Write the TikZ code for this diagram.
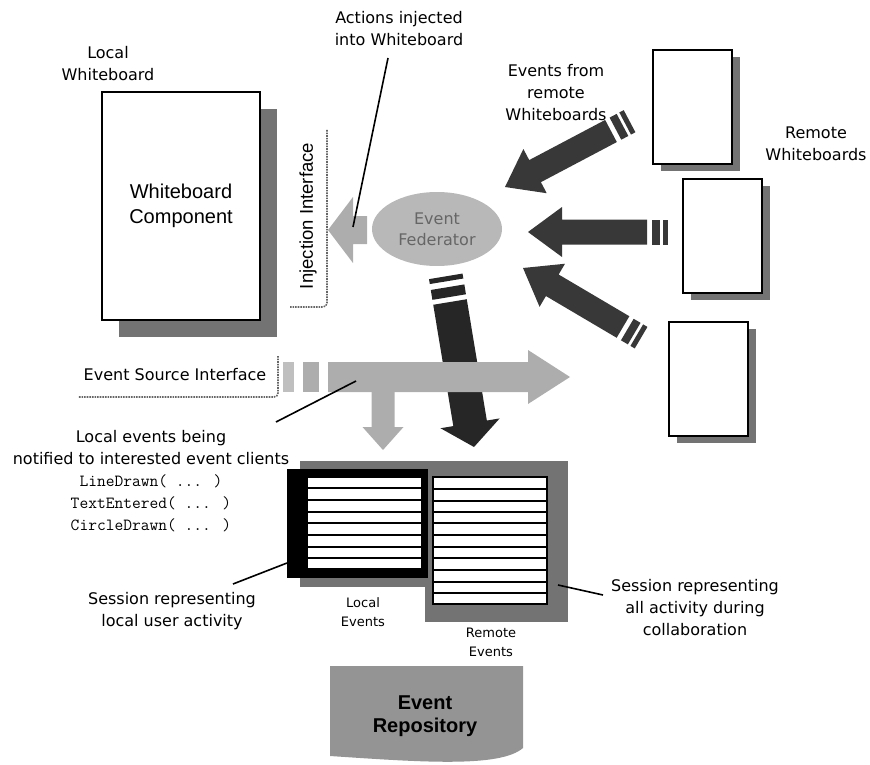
\documentclass[tikz,border=0pt]{standalone}
\usepackage{fontspec}
\setmainfont{DejaVu Sans}
\newfontfamily\arialf{Liberation Sans}
\usetikzlibrary{calc,shadows,shapes.geometric}

% fat block arrow: style, tail, tip, shaft half width, head half width, head length
\newcommand{\fatarrow}[6]{%
  \coordinate (fab) at ($(#3)!#6!(#2)$);
  \fill[#1] ($(#2)!#4!90:(#3)$) -- ($(fab)!#4!90:(#3)$) -- ($(fab)!#5!90:(#3)$) -- (#3)
    -- ($(fab)!#5!-90:(#3)$) -- ($(fab)!#4!-90:(#3)$) -- ($(#2)!#4!-90:(#3)$) -- cycle;}
% bar behind the tail: style, tail, tip, from, to, half width
\newcommand{\tailbar}[6]{%
  \coordinate (tba) at ($(#2)!#4!180:(#3)$);
  \coordinate (tbb) at ($(#2)!#5!180:(#3)$);
  \fill[#1] ($(tba)!#6!90:(#3)$) -- ($(tbb)!#6!90:(#3)$) -- ($(tbb)!#6!-90:(#3)$)
    -- ($(tba)!#6!-90:(#3)$) -- cycle;}
\newcommand{\callf}{\ttfamily\fontsize{17}{22}\selectfont}

\begin{document}
\begin{tikzpicture}[x=1pt,y=-1pt,
  lbl/.style={align=center,font=\fontsize{16}{22}\selectfont,inner sep=0pt},
  smalllbl/.style={align=center,font=\fontsize{13}{19}\selectfont,inner sep=0pt},
  board/.style={draw,line width=2pt,fill=white,minimum width=79pt,minimum height=114pt,inner sep=0pt,
    drop shadow={shadow xshift=8pt,shadow yshift=-7pt,fill=black!55,opacity=1}},
  iface/.style={black!60,line width=1.6pt,densely dotted,rounded corners=4pt},
  pointer/.style={line width=1.6pt},
  darkarr/.style={fill=black!78},
  lightarr/.style={fill=black!32}]
\useasboundingbox (0,0) rectangle (870,765);

% local whiteboard
\node[lbl] (localwb) at (108,64) {Local\\Whiteboard};
\node[draw,line width=2pt,fill=white,minimum width=158pt,minimum height=228pt,inner sep=0pt,
  align=center,font=\arialf\fontsize{20}{25}\selectfont,
  drop shadow={shadow xshift=17pt,shadow yshift=-17pt,fill=black!55,opacity=1}]
  (comp) at (181,206) {Whiteboard\\Component};

% interfaces
\draw[iface] (327,130) -- (327,307) -- (290,307);
\node[rotate=90,inner sep=0pt,font=\arialf\fontsize{18.5}{22}\selectfont] (injlbl) at (308,216) {Injection Interface};
\draw[iface] (278,356) -- (278,397) -- (78,397);
\node[lbl] (srclbl) at (175,375) {Event Source Interface};

% injection arrow and federator
\coordinate (inj-t) at (367,230);
\coordinate (inj-h) at (328,230);
\fatarrow{lightarr}{inj-t}{inj-h}{14pt}{33pt}{25pt}
\node[ellipse,fill=black!28,minimum width=130pt,minimum height=74pt,inner sep=0pt,align=center,
  text=black!60,font=\fontsize{16}{21}\selectfont] (fed) at (437,229) {Event\\Federator};

\node[lbl] (actlbl) at (399,29) {Actions injected\\into Whiteboard};
\coordinate (p-act1) at (388,58);
\coordinate (p-act2) at (353,227);
\draw[pointer] (p-act1) -- (p-act2);

% remote whiteboards
\node[board] (rb1) at (692.5,107) {};
\node[board] (rb2) at (722,236) {};
\node[board] (rb3) at (708,379) {};
\node[lbl] (remlbl) at (816,144) {Remote\\Whiteboards};
\node[lbl] (evfrom) at (556,93) {Events from\\remote\\Whiteboards};

\coordinate (r1-t) at (611,131);
\coordinate (r1-h) at (505,187);
\coordinate (r2-t) at (647,232);
\coordinate (r2-h) at (528,232);
\coordinate (r3-t) at (623,327);
\coordinate (r3-h) at (523,268);
\foreach \a in {r1,r2,r3}{
  \fatarrow{darkarr}{\a-t}{\a-h}{12.5pt}{25pt}{34pt}
  \tailbar{darkarr}{\a-t}{\a-h}{5pt}{13pt}{12.5pt}
  \tailbar{darkarr}{\a-t}{\a-h}{16pt}{21pt}{12.5pt}
}

% federator to sessions
\coordinate (fd-t) at (450,302);
\coordinate (fd-h) at (474,447);
\fatarrow{fill=black!85}{fd-t}{fd-h}{17pt}{30pt}{24pt}
\tailbar{fill=black!85}{fd-t}{fd-h}{5pt}{15pt}{17pt}
\tailbar{fill=black!85}{fd-t}{fd-h}{21pt}{26pt}{17pt}

% event source arrows
\coordinate (src-t) at (328,377);
\coordinate (src-h) at (570,377);
\coordinate (dn-t) at (383,390);
\coordinate (dn-h) at (383,450);
\fatarrow{lightarr}{src-t}{src-h}{15pt}{27pt}{42pt}
\tailbar{lightarr}{src-t}{src-h}{9pt}{25pt}{15pt}
\tailbar{fill=black!25}{src-t}{src-h}{34pt}{45pt}{15pt}
\fatarrow{lightarr}{dn-t}{dn-h}{11.5pt}{20.5pt}{23pt}

\node[lbl] (notif) at (151,481) {Local events being\\notified to interested event clients\\
  {\callf LineDrawn( ... )}\\
  {\callf TextEntered( ... )}\\
  {\callf CircleDrawn( ... )}};
\coordinate (p-src1) at (276,422);
\coordinate (p-src2) at (356,381);
\draw[pointer] (p-src1) -- (p-src2);

% sessions
\fill[black!55] (300,461) rectangle (568,587);
\fill[black!55] (425,461) rectangle (568,622);
\node[fill=black,minimum width=141pt,minimum height=109pt,inner sep=0pt] (lsout) at (357.5,523.5) {};
\node[fill=white,minimum width=113pt,minimum height=90pt,inner sep=0pt] (lsin) at (364.5,523) {};
\foreach \y in {488,500,512,523,535,547,558}
  \draw[line width=1.5pt] (308,\y) -- (421,\y);
\node[draw,line width=1.2pt,fill=white,minimum width=114pt,minimum height=127pt,inner sep=0pt] (rsin) at (490,540.5) {};
\foreach \y in {489,501,512,523,535,547,558,570,582,593}
  \draw[line width=1.5pt] (433,\y) -- (547,\y);

\node[smalllbl] (locev) at (363,612) {Local\\Events};
\node[smalllbl] (remev) at (491,642) {Remote\\Events};

\node[lbl] (sesloc) at (172,611) {Session representing\\local user activity};
\coordinate (p-ses1) at (233,584);
\coordinate (p-ses2) at (287,563);
\draw[pointer] (p-ses1) -- (p-ses2);
\node[lbl] (sesall) at (695,608) {Session representing\\all activity during\\collaboration};
\coordinate (p-all1) at (603,595);
\coordinate (p-all2) at (558,585);
\draw[pointer] (p-all1) -- (p-all2);

% repository
\fill[black!42] (330,666) -- (523,666) -- (523,748) .. controls (500,768) and (420,762) .. (330,756) -- cycle;
\node[align=center,inner sep=0pt,font=\arialf\bfseries\fontsize{20}{23}\selectfont] (repo) at (425,716.5) {Event\\Repository};
\end{tikzpicture}
\end{document}
